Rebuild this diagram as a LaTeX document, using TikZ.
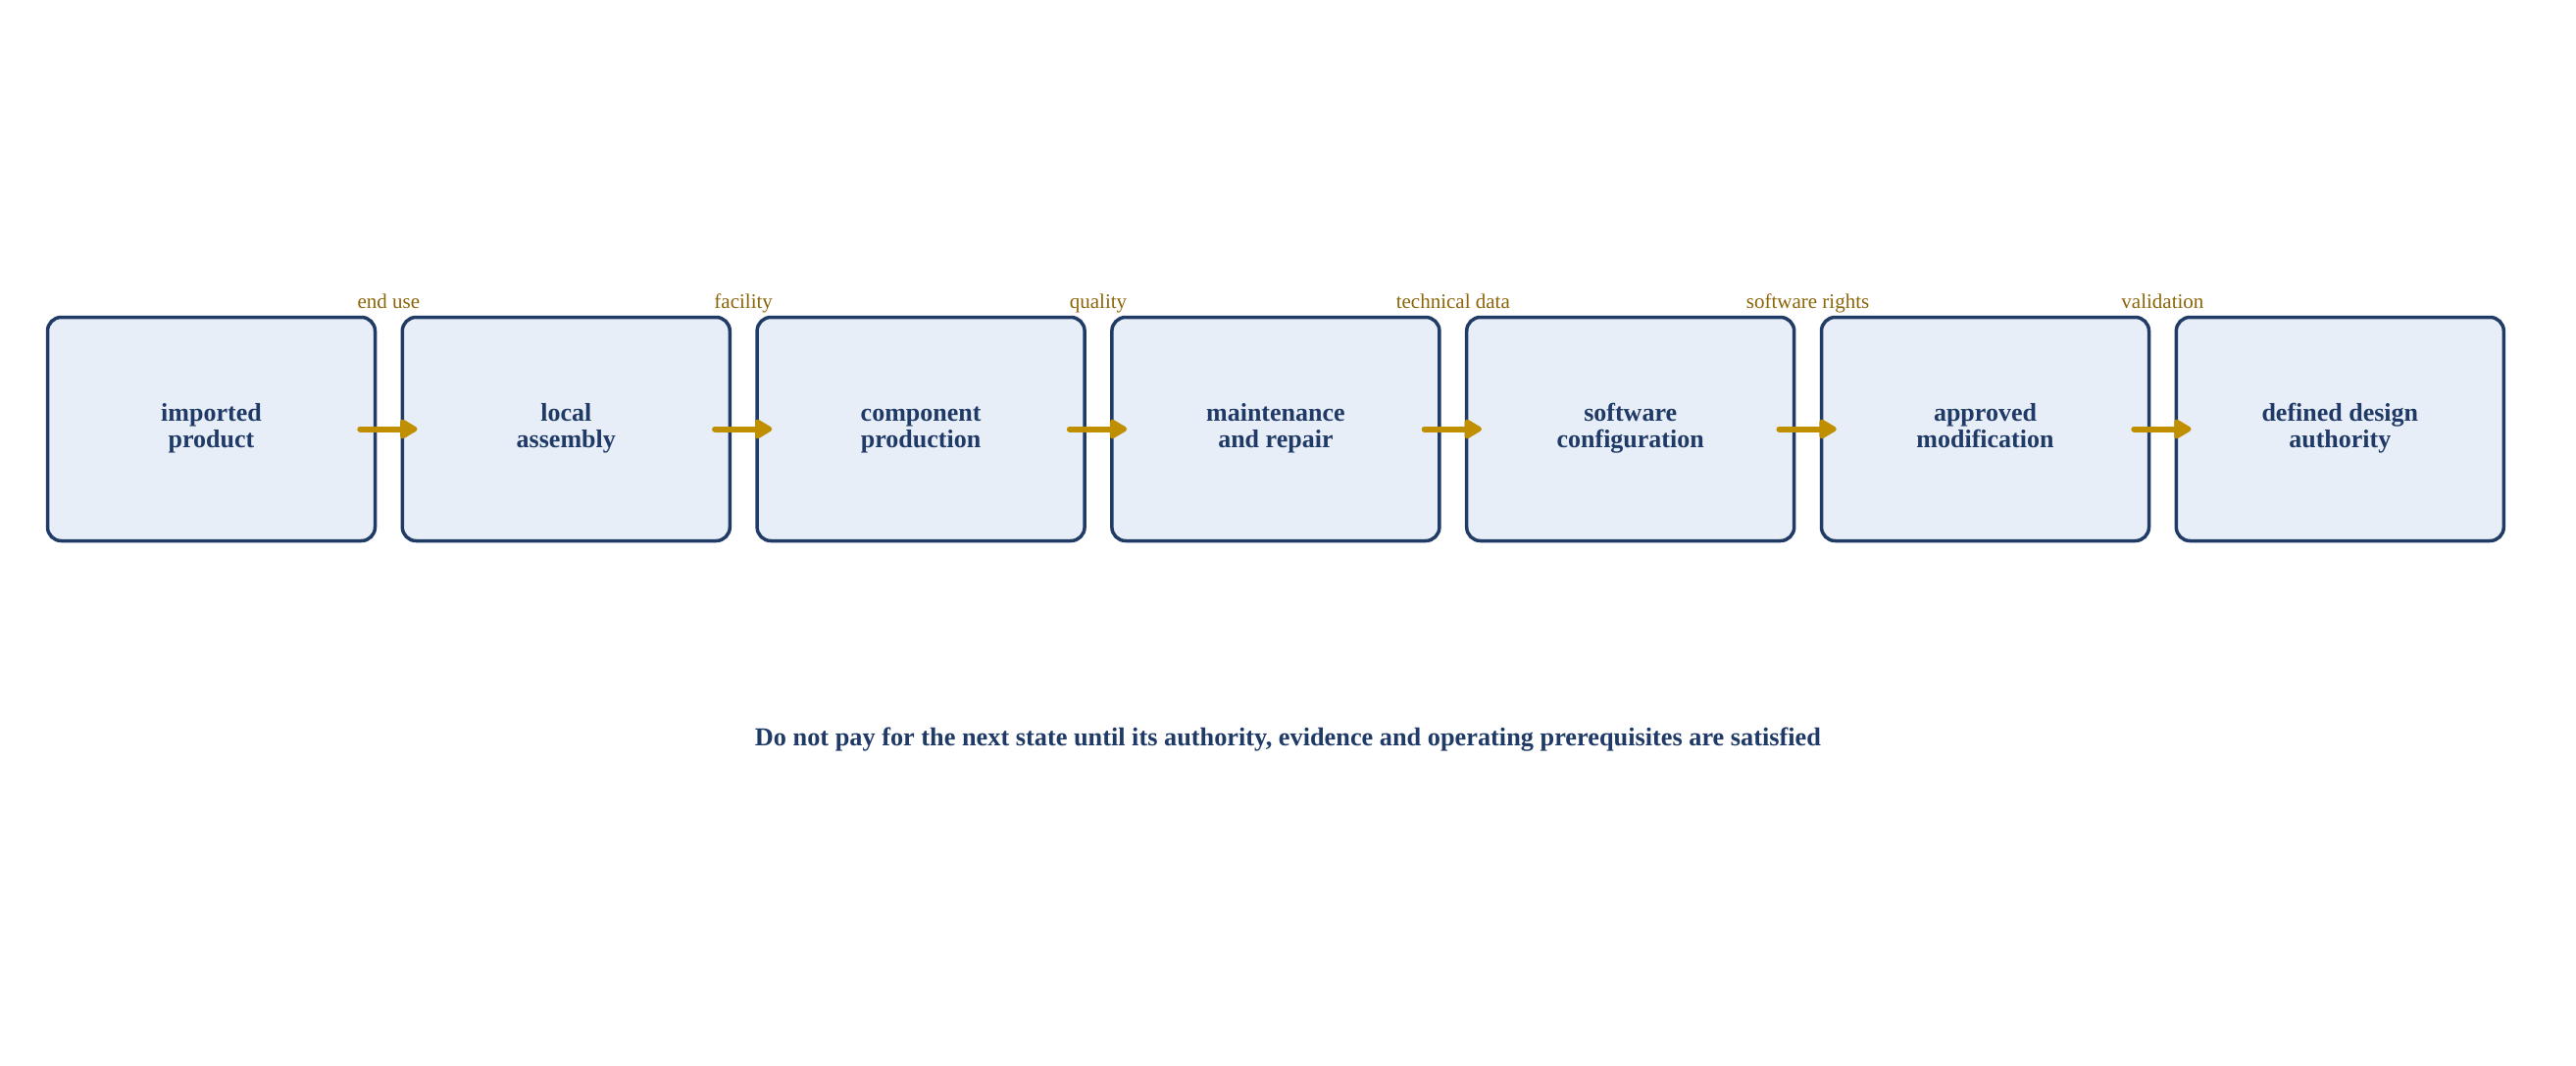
\documentclass[tikz,border=0pt]{standalone}
\usepackage{fontspec}
\setmainfont{Liberation Serif}
\usetikzlibrary{arrows.meta}
\definecolor{navy}{HTML}{1F3B66}
\definecolor{navytext}{HTML}{1F3A66}
\definecolor{boxfill}{HTML}{E8EEF7}
\definecolor{gold}{HTML}{BF8F00}
\definecolor{goldtext}{HTML}{8B6508}
\begin{document}
\begin{tikzpicture}[x=1pt,y=-1pt]
\tikzset{
  stage/.style={draw=navy, line width=3.5pt, fill=boxfill, rounded corners=14pt,
    minimum width=334pt, minimum height=228pt, inner sep=0pt, align=center,
    font=\fontsize{26}{27}\selectfont\bfseries, text=navytext},
  flow/.style={draw=gold, line width=6pt, line cap=round,
    -{Triangle[length=20pt,width=22pt,round]}},
  lbl/.style={font=\fontsize{21}{22}\selectfont, text=goldtext, anchor=base, inner sep=0pt},
  note/.style={font=\fontsize{26.3}{28}\selectfont\bfseries, text=navytext}
}
\useasboundingbox[fill=white] (0,0) rectangle (2627,1087);
\node[stage] (b1) at (215.5,437.5) {\strut imported\\product\strut};
\node[stage] (b2) at (577.3,437.5) {\strut local\\assembly\strut};
\node[stage] (b3) at (939.1,437.5) {\strut component\\production\strut};
\node[stage] (b4) at (1300.9,437.5) {\strut maintenance\\and repair\strut};
\node[stage] (b5) at (1662.7,437.5) {\strut software\\configuration\strut};
\node[stage] (b6) at (2024.5,437.5) {\strut approved\\modification\strut};
\node[stage] (b7) at (2386.3,437.5) {\strut defined design\\authority\strut};
\draw[flow] ([xshift=-17pt]b1.east) -- node[lbl, yshift=123pt] {end use} ([xshift=17pt]b2.west);
\draw[flow] ([xshift=-17pt]b2.east) -- node[lbl, yshift=123pt] {facility} ([xshift=17pt]b3.west);
\draw[flow] ([xshift=-17pt]b3.east) -- node[lbl, yshift=123pt] {quality} ([xshift=17pt]b4.west);
\draw[flow] ([xshift=-17pt]b4.east) -- node[lbl, yshift=123pt] {technical data} ([xshift=17pt]b5.west);
\draw[flow] ([xshift=-17pt]b5.east) -- node[lbl, yshift=123pt] {software rights} ([xshift=17pt]b6.west);
\draw[flow] ([xshift=-17pt]b6.east) -- node[lbl, yshift=123pt] {validation} ([xshift=17pt]b7.west);
\node[note] (msg) at (1313.5,754) {Do not pay for the next state until its authority, evidence and operating prerequisites are satisfied};
\end{tikzpicture}
\end{document}
